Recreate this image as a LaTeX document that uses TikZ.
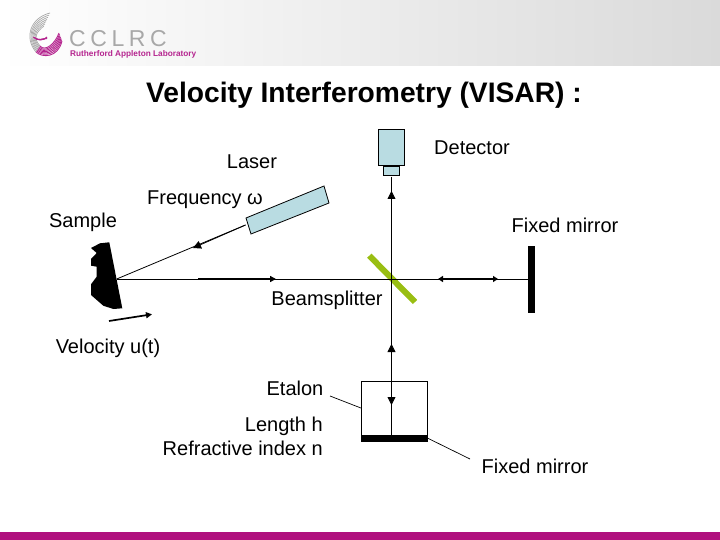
\documentclass[tikz,border=0pt]{standalone}
\usepackage{fontspec}
\setmainfont{Liberation Sans}
\usepackage{xcolor}
\usetikzlibrary{arrows.meta,positioning,calc}
\definecolor{rulebar}{HTML}{B0107E}
\definecolor{logomag}{HTML}{B5258F}
\definecolor{logogray}{HTML}{A8A8A8}
\definecolor{paleblue}{HTML}{B9DCE2}
\definecolor{splitgreen}{HTML}{99BE12}
\definecolor{headgray}{HTML}{DADADA}
\tikzset{
  lbl/.style={font=\fontsize{20}{24}\selectfont,inner sep=0pt,anchor=base,text=black},
  titlelbl/.style={lbl,font=\bfseries\fontsize{28.2}{32}\selectfont},
  optic/.style={draw=black,fill=paleblue,line width=0.8pt},
  beam/.style={draw=black,line width=0.8pt},
  fatbeam/.style={draw=black,line width=1.7pt},
  tipf/.style={-{Triangle[length=8pt,width=8pt]}},
  tipfat/.style={-{Triangle[length=6pt,width=6pt]}},
  tipb/.style={{Triangle[length=5pt,width=6pt]}-{Triangle[length=5pt,width=6pt]}},
  leader/.style={draw=black,line width=0.7pt},
}
\begin{document}
\begin{tikzpicture}[x=1pt,y=-1pt]
  \useasboundingbox (0,0) rectangle (720,540);
  \shade[left color=white,right color=headgray,shading angle=90] (0,0) rectangle (720,66);
  \fill[rulebar] (0,532) rectangle (720,540);
  % logo
  \foreach \i in {0,...,6}{
    \pgfmathsetmacro{\t}{\i/6}
    \draw[logogray,line width=0.7pt] (50-6*\t,13+13*\t) .. controls (30+6*\t,18+14*\t) and (24+9*\t,38) .. (36+4*\t,52-6*\t);
    \draw[logomag,line width=0.9pt] (36+4*\t,52-6*\t) .. controls (42+3*\t,58-6*\t) and (58-3*\t,58-14*\t) .. (62-3*\t,41-8*\t);
  }
  \foreach \i in {0,...,3}{
    \draw[logomag,line width=0.9pt] (33+\i*1,37+\i*0.4) .. controls (38,41) and (43,41-\i) .. (47,37+\i*0.6);
  }
  \node[font=\fontsize{23}{24}\addfontfeature{LetterSpace=20}\selectfont,text=logogray,inner sep=0pt,anchor=base west] (logotext) at (69,47) {CCLRC};
  \node[font=\bfseries\fontsize{8.25}{10}\selectfont,text=logomag,inner sep=0pt,anchor=base west] (logosub) at (70,57) {Rutherford Appleton Laboratory};
  % labels
  \node[titlelbl] (title) at (364,103) {Velocity Interferometry (VISAR) :};
  \node[lbl] (laserlbl) at (252,169) {Laser};
  \node[lbl] (detlbl) at (472,155) {Detector};
  \node[lbl] (freqlbl) at (205,205) {Frequency ω};
  \node[lbl] (samplelbl) at (83,227) {Sample};
  \node[lbl] (mirrlbl) at (565,233) {Fixed mirror};
  \node[lbl] (splitlbl) at (327,305) {Beamsplitter};
  \node[lbl] (vellbl) at (108,353) {Velocity u(t)};
  \node[lbl] (etalbl) at (295,395) {Etalon};
  \node[lbl,anchor=base east] (lenlbl) at (323,431) {Length h};
  \node[lbl,anchor=base east] (reflbl) at (323,455) {Refractive index n};
  \node[lbl] (botlbl) at (535,473) {Fixed mirror};
  % optics
  \fill[black] (109.3,242.3) -- (100,243.3) -- (91,248) -- (96.7,253) -- (91,259) -- (91,265.7) -- (96.7,266.7) -- (96.7,276.7) -- (91,284.3) -- (91,295) -- (103.3,305.7) -- (113.3,309) -- (122.3,308.3) -- cycle;
  \coordinate (face) at (116.7,279);
  \draw[optic] (246,218) -- (324,186) -- (329,203) -- (251,234) -- cycle;
  \coordinate (laserout) at (245.5,225);
  \coordinate (lasertip) at (193,248);
  \node[optic,minimum width=26pt,minimum height=36pt,inner sep=0pt] (det) at (391.3,147.3) {};
  \node[optic,minimum width=15.4pt,minimum height=9pt,inner sep=0pt,below=0pt of det] (detneck) {};
  \coordinate (detin) at (391.5,177);
  \coordinate (cross) at (391.5,279);
  \coordinate (dettip) at (391.5,191);
  \fill[black] (528,246) rectangle (535,313);
  \coordinate (mirrface) at (528,279);
  \draw[splitgreen,line width=6pt] (369.3,255.7) -- (415,302);
  \node[draw=black,line width=0.8pt,minimum width=66pt,minimum height=55.4pt,inner sep=0pt] (etalon) at (394.3,409) {};
  \fill[black] (361,435) rectangle (428,441.7);
  \coordinate (etabottom) at (391.5,436);
  % beams
  \draw[beam] (laserout) -- (face);
  \draw[beam,tipf] (laserout) -- (lasertip);
  \draw[beam] (face) -- (mirrface);
  \coordinate (fwdl) at (198,279);
  \coordinate (fwdr) at (276,279);
  \draw[fatbeam,tipfat] (fwdl) -- (fwdr);
  \coordinate (backl) at (438,279);
  \coordinate (backr) at (498,279);
  \draw[fatbeam,tipb] (backl) -- (backr);
  \draw[beam] (detin) -- (etabottom);
  \draw[beam,tipf] (cross) -- (dettip);
  \coordinate (etaup) at (391.5,344);
  \draw[beam,tipf] (etalon.north -| cross) -- (etaup);
  \coordinate (etadn) at (391.5,405);
  \draw[beam,tipf] (etalon.north -| cross) -- (etadn);
  % velocity arrow
  \coordinate (vels) at (109,321);
  \coordinate (vele) at (152,314.3);
  \draw[fatbeam,tipfat] (vels) -- (vele);
  % leaders
  \coordinate (etaleadl) at (330,396);
  \draw[leader] (etaleadl) -- (etalon.west |- 0,408);
  \coordinate (botlead) at (470,459);
  \draw[leader] (427.3,438) -- (botlead);
\end{tikzpicture}
\end{document}
